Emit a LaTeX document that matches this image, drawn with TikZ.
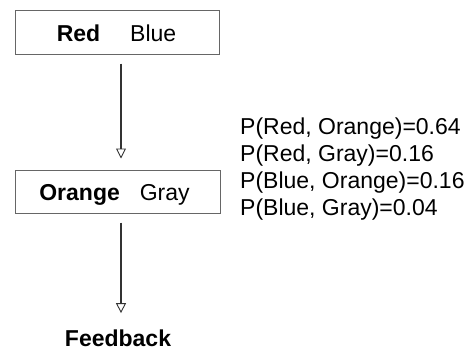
\documentclass[tikz,border=0pt]{standalone}
\usepackage{fontspec}
\setmainfont{Liberation Sans}
\usetikzlibrary{arrows.meta}
\begin{document}
\begin{tikzpicture}[x=1pt,y=-1pt,
  txt/.style={font=\fontsize{23}{27}\selectfont},
  box/.style={draw=black!60,line width=1pt,inner sep=0pt},
  conn/.style={draw=black!80,line width=1.4pt,-{Triangle[open,width=10pt,length=10pt,line width=0.9pt]}},
  prob/.style={txt,anchor=base west,inner sep=0pt}]
\useasboundingbox (0,0) rectangle (473,351);
% boxes
\node[box,minimum width=204pt,minimum height=44pt] (top) at (117,32) {};
\node[box,minimum width=205pt,minimum height=43pt] (mid) at (117.5,191.5) {};
% box texts
\node[txt,anchor=base,inner sep=0pt] (toptext) at (116.5,41) {\textbf{Red}\hspace{30pt}Blue};
\node[txt,anchor=base,inner sep=0pt] (midtext) at (114.5,200) {\textbf{Orange}\hspace{20pt}Gray};
\node[txt,anchor=base,inner sep=0pt,font=\bfseries\fontsize{23}{27}\selectfont] (fb) at (118,346) {Feedback};
% connectors
\draw[conn,shorten <=9pt,shorten >=11pt] (top.south -| 121,0) -- (mid.north -| 121,0);
\draw[conn,shorten <=9pt,shorten >=16pt] (mid.south -| 121,0) -- (fb.north -| 121,0);
% probabilities
\node[prob] (p1) at (240,134) {P(Red, Orange)=0.64};
\node[prob] (p2) at (240,161) {P(Red, Gray)=0.16};
\node[prob] (p3) at (240,188) {P(Blue, Orange)=0.16};
\node[prob] (p4) at (240,215) {P(Blue, Gray)=0.04};
\end{tikzpicture}
\end{document}
